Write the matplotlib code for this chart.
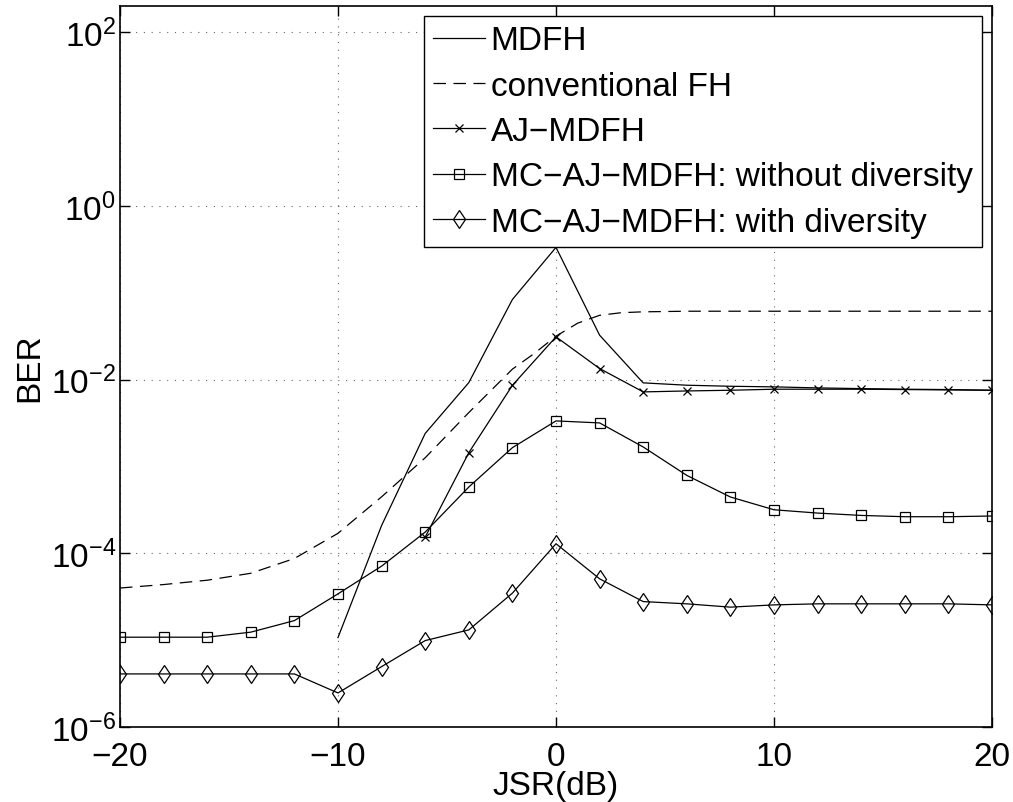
import numpy as np
import matplotlib
matplotlib.use('Agg')
import matplotlib.pyplot as plt
from matplotlib.ticker import FixedLocator, NullLocator

plt.rcParams['font.family'] = ['Liberation Sans', 'DejaVu Sans']
plt.rcParams['mathtext.fontset'] = 'custom'
plt.rcParams['mathtext.rm'] = 'Liberation Sans'
plt.rcParams['mathtext.default'] = 'regular'

# JSR in dB
jsr = [-20, -18, -16, -14, -12, -10, -8, -6, -4, -2, 0, 2, 4, 6, 8, 10, 12, 14, 16, 18, 20]

# MDFH (starts at -10 dB)
jsr_mdfh = [-10, -8, -6, -4, -2, 0, 2, 4, 6, 8, 10, 12, 14, 16, 18, 20]
log_mdfh = [-4.97, -3.68, -2.62, -2.035, -1.078, -0.478, -1.489, -2.038, -2.065,
            -2.077, -2.084, -2.096, -2.104, -2.111, -2.115, -2.123]

# conventional FH (smooth curve)
jsr_fh = [-20, -18, -16, -14, -12, -10, -8, -6, -4, -2, -1, 0, 1, 2, 3, 4,
          6, 8, 10, 12, 14, 16, 18, 20]
log_fh = [-4.40, -4.36, -4.31, -4.23, -4.06, -3.77, -3.35, -2.90, -2.38, -1.88,
          -1.70, -1.50, -1.35, -1.26, -1.23, -1.22, -1.213, -1.213, -1.213,
          -1.213, -1.213, -1.213, -1.213, -1.213]

# AJ-MDFH (starts at -6 dB)
jsr_aj = [-6, -4, -2, 0, 2, 4, 6, 8, 10, 12, 14, 16, 18, 20]
log_aj = [-3.813, -2.842, -2.066, -1.508, -1.873, -2.142, -2.131, -2.123, -2.111,
          -2.111, -2.111, -2.115, -2.119, -2.123]

# MC-AJ-MDFH without diversity
log_mc_nodiv = [-4.966, -4.966, -4.966, -4.908, -4.775, -4.467, -4.148, -3.756,
                -3.237, -2.784, -2.476, -2.499, -2.776, -3.103, -3.352, -3.499,
                -3.537, -3.564, -3.579, -3.579, -3.571]

# MC-AJ-MDFH with diversity
log_mc_div = [-5.389, -5.389, -5.389, -5.389, -5.389, -5.608, -5.305, -5.005,
              -4.882, -4.459, -3.89, -4.294, -4.556, -4.582, -4.62, -4.594,
              -4.582, -4.582, -4.582, -4.582, -4.594]

labels = ['MDFH', 'conventional FH', 'AJ\u2212MDFH',
          'MC\u2212AJ\u2212MDFH: without diversity',
          'MC\u2212AJ\u2212MDFH: with diversity']

fig = plt.figure(figsize=(10.13, 8.03), dpi=100)
ax = fig.add_axes([120 / 1013, 1 - 728 / 803, (992 - 120) / 1013, (728 - 7) / 803])

lw = 0.9
ax.semilogy(jsr_mdfh, 10.0 ** np.array(log_mdfh), 'k-', lw=lw, label=labels[0])
ax.semilogy(jsr_fh, 10.0 ** np.array(log_fh), 'k--', lw=lw, dashes=(10, 6), label=labels[1])
ax.semilogy(jsr_aj, 10.0 ** np.array(log_aj), 'k-x', lw=lw, ms=6, mew=0.9, label=labels[2])
ax.semilogy(jsr, 10.0 ** np.array(log_mc_nodiv), 'k-s', lw=lw, ms=6.5, mew=0.9,
            mfc='none', label=labels[3])
ax.semilogy(jsr, 10.0 ** np.array(log_mc_div), 'k-d', lw=lw, ms=9.5, mew=0.9,
            mfc='none', label=labels[4])

ax.set_xlim(-20, 20)
ax.set_ylim(1e-6, 2e2)
ax.set_xticks([-20, -10, 0, 10, 20])
ax.set_xticklabels(['\u221220', '\u221210', '0', '10', '20'])
ax.yaxis.set_major_locator(FixedLocator([1e-6, 1e-4, 1e-2, 1e0, 1e2]))
ax.yaxis.set_minor_locator(NullLocator())
ax.set_yticklabels(['$10^{-6}$', '$10^{-4}$', '$10^{-2}$', '$10^{0}$', '$10^{2}$'])

ax.tick_params(direction='in', length=7, width=1, top=True, right=True,
               labelsize=24)
ax.tick_params(axis='x', pad=10)
ax.tick_params(axis='y', pad=3)
ax.grid(True, which='major', linestyle=(0, (1, 6)), color='k', lw=0.8, alpha=0.6)
for s in ax.spines.values():
    s.set_linewidth(1.2)

ax.set_xlabel('JSR(dB)', fontsize=24, labelpad=-1)
ax.set_ylabel('BER', fontsize=24, labelpad=4)

leg = ax.legend(loc='upper right', fontsize=24, frameon=True, fancybox=False,
                edgecolor='k', framealpha=1, handlelength=1.55, handletextpad=0.18,
                labelspacing=0.43, borderpad=0.28, borderaxespad=0.3)
leg.get_frame().set_linewidth(1.0)

fig.savefig('out.png', dpi=100)
